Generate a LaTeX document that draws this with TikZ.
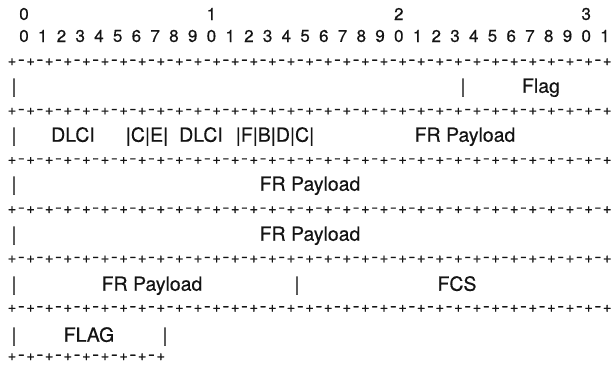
\documentclass[tikz,border=0pt]{standalone}
\usepackage{graphicx}
\usepackage{fontspec}
\setmainfont[FakeBold=0.5]{TeX Gyre Heros}
\newfontfamily\brdfont[FakeBold=0.9]{TeX Gyre Heros}
\begin{document}
\begin{tikzpicture}[x=1pt,y=-1pt,
  txt/.style={inner sep=0, anchor=center, text=black!92, font=\fontsize{19.5}{19.5}\selectfont, text height=13.5pt, text depth=0pt},
  dig/.style={inner sep=0, anchor=center, text=black!92, font=\fontsize{17}{17}\selectfont},
  brd/.style={inner sep=0, anchor=center, text=black!92, font=\brdfont\fontsize{14.5}{14.5}\selectfont}]
\useasboundingbox (0,0) rectangle (614,366);
% tens row
\foreach \i/\t in {0/0,10/1,20/2,30/3}
  \node[dig] (t\i) at ({24+18.74*\i},14) {\t};
% units row
\foreach \i in {0,...,31}{
  \pgfmathtruncatemacro{\u}{mod(\i,10)}
  \node[dig] (u\i) at ({24+18.74*\i},36) {\u};
}
% full borders
\foreach \k in {0,...,5}{
  \foreach \i in {0,...,32}
    \node[brd] (p\k-\i) at ({12+18.6*\i},{62+49.3*\k}) {+};
  \foreach \i in {0,...,31}
    \node[brd] (m\k-\i) at ({21.3+18.6*\i},{62+49.3*\k}) {\scalebox{1.4}[1]{-}};
}
% last short border
\foreach \i in {0,...,8}
  \node[brd] (p6-\i) at ({12+18.6*\i},357) {+};
\foreach \i in {0,...,7}
  \node[brd] (m6-\i) at ({21.3+18.6*\i},357) {\scalebox{1.4}[1]{-}};
% row A
\node[txt] (a1) at (14,86) {|};
\node[txt] (a2) at (463,86) {|};
\node[txt] (a3) at (541,86) {Flag};
% row B
\node[txt] (b1) at (14,135) {|};
\node[txt] (b2) at (73,135) {DLCI};
\node[txt] (b3) at (147,135) {|C|E|};
\node[txt] (b4) at (201,135) {DLCI};
\node[txt] (b5) at (275,135) {|F|B|D|C|};
\node[txt] (b6) at (465,135) {FR Payload};
% row C
\node[txt] (c1) at (14,184) {|};
\node[txt] (c2) at (310,184) {FR Payload};
% row D
\node[txt] (d1) at (14,234) {|};
\node[txt] (d2) at (310,234) {FR Payload};
% row E
\node[txt] (e1) at (14,284) {|};
\node[txt] (e2) at (152,284) {FR Payload};
\node[txt] (e3) at (297,284) {|};
\node[txt] (e4) at (457,284) {FCS};
% row F
\node[txt] (f1) at (14,335) {|};
\node[txt] (f2) at (89,335) {FLAG};
\node[txt] (f3) at (165,335) {|};
\end{tikzpicture}
\end{document}
